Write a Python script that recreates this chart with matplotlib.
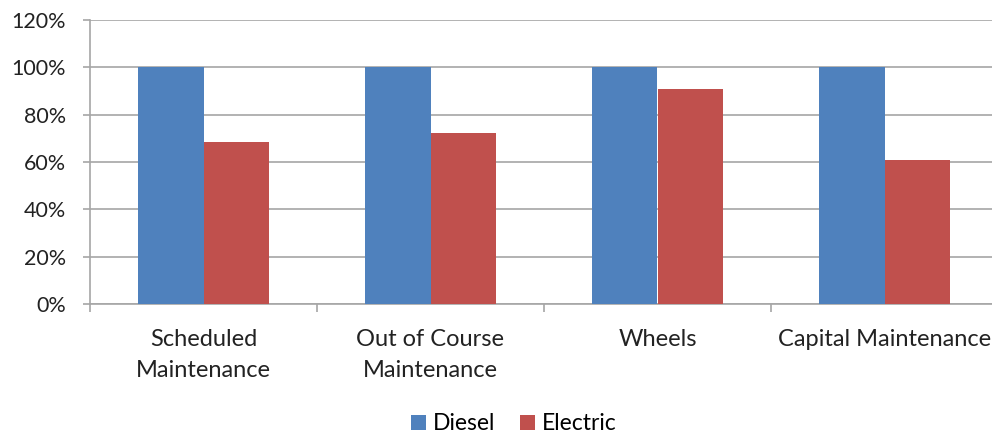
import numpy as np
import matplotlib.pyplot as plt
from matplotlib.ticker import FuncFormatter

# Datos del grafico
categorias = ['Scheduled\nMaintenance', 'Out of Course\nMaintenance', 'Wheels',
              'Capital Maintenance']
diesel = [100, 100, 100, 100]
electric = [68.5, 72.3, 91.0, 61.0]

plt.rcParams['font.family'] = ['Lato', 'DejaVu Sans']

fig = plt.figure(figsize=(9.92, 4.34), dpi=100)
ax = fig.add_axes([90 / 992, 130 / 434, 908 / 992, 284 / 434])

x = np.arange(len(categorias))
ancho = 0.289
ax.bar(x - ancho / 2, diesel, ancho, color='#4F81BD', label='Diesel', zorder=3)
ax.bar(x + ancho / 2, electric, ancho, color='#C0504D', label='Electric', zorder=3)

ax.set_xlim(-0.5, len(categorias) - 0.5)
ax.set_ylim(0, 120)
ax.set_yticks(range(0, 121, 20))
ax.yaxis.set_major_formatter(FuncFormatter(lambda v, p: f'{v:.0f}%'))
ax.grid(axis='y', color='#A6A6A6', linewidth=1.2, zorder=0)

# ticks del eje x entre categorias, etiquetas centradas
ax.set_xticks(np.arange(-0.5, len(categorias), 1))
ax.set_xticklabels([])
ax.set_xticks(x, minor=True)
ax.set_xticklabels(categorias, minor=True, fontsize=17, color='#222222',
                   linespacing=1.6)
ax.tick_params(axis='x', which='minor', length=0, pad=18)
ax.tick_params(axis='x', which='major', length=6, color='#A6A6A6', width=1.2)
ax.tick_params(axis='y', length=5, color='#A6A6A6', width=1.2, labelsize=15.5,
               labelcolor='#222222', pad=12.5)

for s in ['top', 'right']:
    ax.spines[s].set_visible(False)
for s in ['left', 'bottom']:
    ax.spines[s].set_color('#A6A6A6')
    ax.spines[s].set_linewidth(1.2)

fig.legend(loc='center', bbox_to_anchor=(514 / 992, 1 - 424 / 434), ncol=2,
           frameon=False, fontsize=16.5, handlelength=0.65, handleheight=0.65,
           handletextpad=0.3, columnspacing=1.1)

fig.savefig('out.png', dpi=100)
